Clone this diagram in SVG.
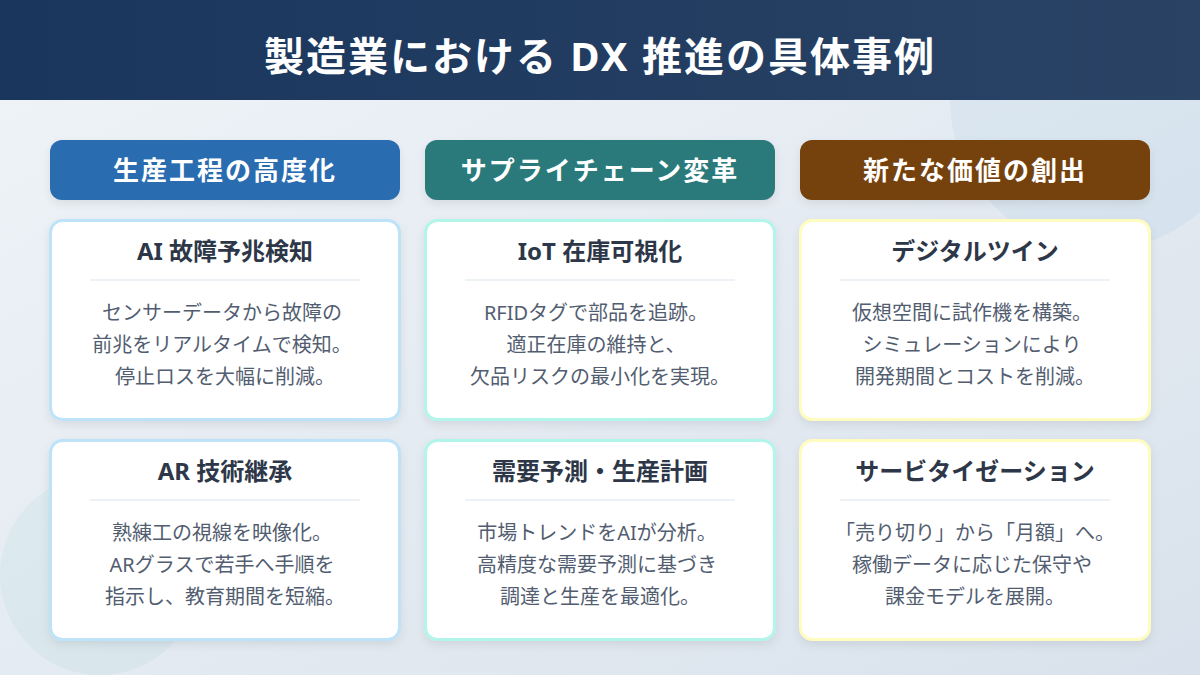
<svg xmlns="http://www.w3.org/2000/svg" width="1200" height="675" viewBox="0 0 1200 675">
<style>
text{font-family:"Noto Sans","Noto Sans CJK JP",sans-serif;text-anchor:middle}
.m{font-size:40px;font-weight:700;fill:#fff;letter-spacing:2px}
.h{font-size:26px;font-weight:700;fill:#fff;letter-spacing:2px}
.t{font-size:24px;font-weight:700;fill:#2d3748}
.b{font-size:20px;fill:#525d70}
.c{fill:#fff;stroke-width:3;filter:url(#s2)}
.d{stroke:#edf2f7;stroke-width:2}
.blue{stroke:#bee3f8}.teal{stroke:#b2f5ea}.yel{stroke:#fefcbf}
</style>
<defs>
<linearGradient id="bg" x1="0" y1="0" x2="1" y2="1"><stop offset="0" stop-color="#f0f4f8"/><stop offset="1" stop-color="#d9e2ec"/></linearGradient>
<linearGradient id="hd" x1="0" y1="0" x2="1" y2="0"><stop offset="0" stop-color="#1a365d"/><stop offset="1" stop-color="#2a4365"/></linearGradient>
<filter id="s1" x="-10%" y="-30%" width="120%" height="170%"><feDropShadow dx="0" dy="4" stdDeviation="4" flood-color="#000" flood-opacity=".08"/></filter>
<filter id="s2" x="-10%" y="-10%" width="120%" height="125%"><feDropShadow dx="0" dy="4" stdDeviation="4" flood-color="#000" flood-opacity=".08"/></filter>
</defs>
<rect width="1200" height="675" fill="url(#bg)"/>
<circle cx="1100" cy="100" r="150" fill="#3182ce" fill-opacity=".06"/>
<circle cx="100" cy="575" r="100" fill="#38b2ac" fill-opacity=".06"/>
<g id="header"><rect width="1200" height="100" fill="url(#hd)"/>
<text class="m" x="600" y="71">製造業における DX 推進の具体事例</text></g>
<g id="col1-header"><rect x="50" y="140" width="350" height="60" rx="12" fill="#2b6cb0" filter="url(#s1)"/><text class="h" x="225" y="180">生産工程の高度化</text></g>
<g id="col2-header"><rect x="425" y="140" width="350" height="60" rx="12" fill="#2c7a7b" filter="url(#s1)"/><text class="h" x="600" y="180">サプライチェーン変革</text></g>
<g id="col3-header"><rect x="800" y="140" width="350" height="60" rx="12" fill="#744210" filter="url(#s1)"/><text class="h" x="975" y="180">新たな価値の創出</text></g>
<g id="card-ai"><rect class="c blue" x="50.5" y="220.5" width="349" height="199" rx="12"/><text class="t" x="225" y="260">AI 故障予兆検知</text><line class="d" x1="90" x2="360" y1="280" y2="280"/>
<text class="b" x="222" y="320">センサーデータから故障の</text><text class="b" x="222" y="352">前兆をリアルタイムで検知。</text><text class="b" x="225" y="384">停止ロスを大幅に削減。</text></g>
<g id="card-iot"><rect class="c teal" x="425.5" y="220.5" width="349" height="199" rx="12"/><text class="t" x="600" y="260">IoT 在庫可視化</text><line class="d" x1="465" x2="735" y1="280" y2="280"/>
<text class="b" x="596" y="320">RFIDタグで部品を追跡。</text><text class="b" x="596" y="352">適正在庫の維持と、</text><text class="b" x="600" y="384">欠品リスクの最小化を実現。</text></g>
<g id="card-twin"><rect class="c yel" x="800.5" y="220.5" width="349" height="199" rx="12"/><text class="t" x="975" y="260">デジタルツイン</text><line class="d" x1="840" x2="1110" y1="280" y2="280"/>
<text class="b" x="972" y="320">仮想空間に試作機を構築。</text><text class="b" x="972" y="352">シミュレーションにより</text><text class="b" x="975" y="384">開発期間とコストを削減。</text></g>
<g id="card-ar"><rect class="c blue" x="50.5" y="440.5" width="349" height="199" rx="12"/><text class="t" x="225" y="480">AR 技術継承</text><line class="d" x1="90" x2="360" y1="500" y2="500"/>
<text class="b" x="222" y="540">熟練工の視線を映像化。</text><text class="b" x="222" y="572">ARグラスで若手へ手順を</text><text class="b" x="225" y="604">指示し、教育期間を短縮。</text></g>
<g id="card-demand"><rect class="c teal" x="425.5" y="440.5" width="349" height="199" rx="12"/><text class="t" x="600" y="480">需要予測・生産計画</text><line class="d" x1="465" x2="735" y1="500" y2="500"/>
<text class="b" x="597" y="540">市場トレンドをAIが分析。</text><text class="b" x="597" y="572">高精度な需要予測に基づき</text><text class="b" x="600" y="604">調達と生産を最適化。</text></g>
<g id="card-service"><rect class="c yel" x="800.5" y="440.5" width="349" height="199" rx="12"/><text class="t" x="975" y="480">サービタイゼーション</text><line class="d" x1="840" x2="1110" y1="500" y2="500"/>
<text class="b" x="975" y="540">「売り切り」から「月額」へ。</text><text class="b" x="972" y="572">稼働データに応じた保守や</text><text class="b" x="975" y="604">課金モデルを展開。</text></g>
</svg>
